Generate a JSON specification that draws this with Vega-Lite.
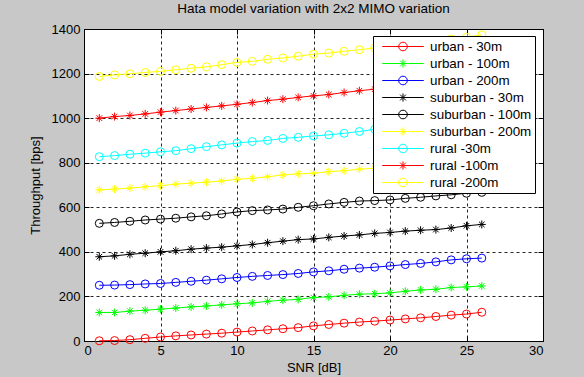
{
"$schema":"https://vega.github.io/schema/vega-lite/v6.json",
"width":459,"height":312,
"autosize":{"type":"none"},
"padding":{"left":84,"top":29,"right":41,"bottom":36},
"background":"#c8c8c8",
"title":{"text":"Hata model variation with 2x2 MIMO variation","fontSize":13.5,"fontWeight":"normal","font":"Liberation Sans","color":"#000000","offset":8,"anchor":"middle"},
"config":{
 "view":{"fill":"#ffffff","stroke":"#000000","strokeWidth":1},
 "font":"Liberation Sans",
 "axis":{"domainColor":"#000000","tickColor":"#000000","tickSize":-5,"labelColor":"#000000","labelFontSize":13,"labelFont":"Liberation Sans","titleFont":"Liberation Sans","titleFontSize":13,"titleFontWeight":"normal","titleColor":"#000000","gridColor":"#000000","gridDash":[3,3],"gridOpacity":0.85,"gridWidth":1},
 "legend":{"labelFont":"Liberation Sans","labelFontSize":13.4,"labelColor":"#000000"}
},
"data":{"values":[
{"series":"urban - 30m","snr":1,"tput":1},{"series":"urban - 30m","snr":2,"tput":2},{"series":"urban - 30m","snr":3,"tput":6},{"series":"urban - 30m","snr":4,"tput":12},{"series":"urban - 30m","snr":5,"tput":18},{"series":"urban - 30m","snr":6,"tput":23},{"series":"urban - 30m","snr":7,"tput":27},{"series":"urban - 30m","snr":8,"tput":31},{"series":"urban - 30m","snr":9,"tput":35},{"series":"urban - 30m","snr":10,"tput":40},{"series":"urban - 30m","snr":11,"tput":45},{"series":"urban - 30m","snr":12,"tput":50},{"series":"urban - 30m","snr":13,"tput":55},{"series":"urban - 30m","snr":14,"tput":60},{"series":"urban - 30m","snr":15,"tput":68},{"series":"urban - 30m","snr":16,"tput":74},{"series":"urban - 30m","snr":17,"tput":80},{"series":"urban - 30m","snr":18,"tput":85},{"series":"urban - 30m","snr":19,"tput":89},{"series":"urban - 30m","snr":20,"tput":94},{"series":"urban - 30m","snr":21,"tput":99},{"series":"urban - 30m","snr":22,"tput":104},{"series":"urban - 30m","snr":23,"tput":110},{"series":"urban - 30m","snr":24,"tput":116},{"series":"urban - 30m","snr":25,"tput":121},{"series":"urban - 30m","snr":26,"tput":129},
{"series":"urban - 100m","snr":1,"tput":128},{"series":"urban - 100m","snr":2,"tput":128},{"series":"urban - 100m","snr":3,"tput":134},{"series":"urban - 100m","snr":4,"tput":138},{"series":"urban - 100m","snr":5,"tput":143},{"series":"urban - 100m","snr":6,"tput":148},{"series":"urban - 100m","snr":7,"tput":153},{"series":"urban - 100m","snr":8,"tput":157},{"series":"urban - 100m","snr":9,"tput":162},{"series":"urban - 100m","snr":10,"tput":167},{"series":"urban - 100m","snr":11,"tput":171},{"series":"urban - 100m","snr":12,"tput":178},{"series":"urban - 100m","snr":13,"tput":183},{"series":"urban - 100m","snr":14,"tput":187},{"series":"urban - 100m","snr":15,"tput":195},{"series":"urban - 100m","snr":16,"tput":198},{"series":"urban - 100m","snr":17,"tput":205},{"series":"urban - 100m","snr":18,"tput":210},{"series":"urban - 100m","snr":19,"tput":212},{"series":"urban - 100m","snr":20,"tput":216},{"series":"urban - 100m","snr":21,"tput":223},{"series":"urban - 100m","snr":22,"tput":229},{"series":"urban - 100m","snr":23,"tput":232},{"series":"urban - 100m","snr":24,"tput":240},{"series":"urban - 100m","snr":25,"tput":243},{"series":"urban - 100m","snr":26,"tput":247},
{"series":"urban - 200m","snr":1,"tput":250},{"series":"urban - 200m","snr":2,"tput":251},{"series":"urban - 200m","snr":3,"tput":253},{"series":"urban - 200m","snr":4,"tput":256},{"series":"urban - 200m","snr":5,"tput":258},{"series":"urban - 200m","snr":6,"tput":263},{"series":"urban - 200m","snr":7,"tput":268},{"series":"urban - 200m","snr":8,"tput":273},{"series":"urban - 200m","snr":9,"tput":279},{"series":"urban - 200m","snr":10,"tput":285},{"series":"urban - 200m","snr":11,"tput":290},{"series":"urban - 200m","snr":12,"tput":294},{"series":"urban - 200m","snr":13,"tput":298},{"series":"urban - 200m","snr":14,"tput":303},{"series":"urban - 200m","snr":15,"tput":310},{"series":"urban - 200m","snr":16,"tput":315},{"series":"urban - 200m","snr":17,"tput":322},{"series":"urban - 200m","snr":18,"tput":327},{"series":"urban - 200m","snr":19,"tput":331},{"series":"urban - 200m","snr":20,"tput":337},{"series":"urban - 200m","snr":21,"tput":343},{"series":"urban - 200m","snr":22,"tput":348},{"series":"urban - 200m","snr":23,"tput":355},{"series":"urban - 200m","snr":24,"tput":364},{"series":"urban - 200m","snr":25,"tput":369},{"series":"urban - 200m","snr":26,"tput":372},
{"series":"suburban - 30m","snr":1,"tput":378},{"series":"suburban - 30m","snr":2,"tput":382},{"series":"suburban - 30m","snr":3,"tput":389},{"series":"suburban - 30m","snr":4,"tput":394},{"series":"suburban - 30m","snr":5,"tput":400},{"series":"suburban - 30m","snr":6,"tput":405},{"series":"suburban - 30m","snr":7,"tput":412},{"series":"suburban - 30m","snr":8,"tput":417},{"series":"suburban - 30m","snr":9,"tput":421},{"series":"suburban - 30m","snr":10,"tput":427},{"series":"suburban - 30m","snr":11,"tput":433},{"series":"suburban - 30m","snr":12,"tput":441},{"series":"suburban - 30m","snr":13,"tput":448},{"series":"suburban - 30m","snr":14,"tput":455},{"series":"suburban - 30m","snr":15,"tput":458},{"series":"suburban - 30m","snr":16,"tput":465},{"series":"suburban - 30m","snr":17,"tput":471},{"series":"suburban - 30m","snr":18,"tput":476},{"series":"suburban - 30m","snr":19,"tput":483},{"series":"suburban - 30m","snr":20,"tput":487},{"series":"suburban - 30m","snr":21,"tput":493},{"series":"suburban - 30m","snr":22,"tput":497},{"series":"suburban - 30m","snr":23,"tput":500},{"series":"suburban - 30m","snr":24,"tput":507},{"series":"suburban - 30m","snr":25,"tput":517},{"series":"suburban - 30m","snr":26,"tput":523},
{"series":"suburban - 100m","snr":1,"tput":528},{"series":"suburban - 100m","snr":2,"tput":532},{"series":"suburban - 100m","snr":3,"tput":537},{"series":"suburban - 100m","snr":4,"tput":543},{"series":"suburban - 100m","snr":5,"tput":547},{"series":"suburban - 100m","snr":6,"tput":551},{"series":"suburban - 100m","snr":7,"tput":557},{"series":"suburban - 100m","snr":8,"tput":562},{"series":"suburban - 100m","snr":9,"tput":570},{"series":"suburban - 100m","snr":10,"tput":579},{"series":"suburban - 100m","snr":11,"tput":585},{"series":"suburban - 100m","snr":12,"tput":588},{"series":"suburban - 100m","snr":13,"tput":592},{"series":"suburban - 100m","snr":14,"tput":600},{"series":"suburban - 100m","snr":15,"tput":607},{"series":"suburban - 100m","snr":16,"tput":615},{"series":"suburban - 100m","snr":17,"tput":622},{"series":"suburban - 100m","snr":18,"tput":628},{"series":"suburban - 100m","snr":19,"tput":630},{"series":"suburban - 100m","snr":20,"tput":633},{"series":"suburban - 100m","snr":21,"tput":640},{"series":"suburban - 100m","snr":22,"tput":645},{"series":"suburban - 100m","snr":23,"tput":651},{"series":"suburban - 100m","snr":24,"tput":656},{"series":"suburban - 100m","snr":25,"tput":663},{"series":"suburban - 100m","snr":26,"tput":667},
{"series":"suburban - 200m","snr":1,"tput":678},{"series":"suburban - 200m","snr":2,"tput":682},{"series":"suburban - 200m","snr":3,"tput":686},{"series":"suburban - 200m","snr":4,"tput":692},{"series":"suburban - 200m","snr":5,"tput":697},{"series":"suburban - 200m","snr":6,"tput":704},{"series":"suburban - 200m","snr":7,"tput":708},{"series":"suburban - 200m","snr":8,"tput":713},{"series":"suburban - 200m","snr":9,"tput":718},{"series":"suburban - 200m","snr":10,"tput":726},{"series":"suburban - 200m","snr":11,"tput":730},{"series":"suburban - 200m","snr":12,"tput":737},{"series":"suburban - 200m","snr":13,"tput":745},{"series":"suburban - 200m","snr":14,"tput":750},{"series":"suburban - 200m","snr":15,"tput":753},{"series":"suburban - 200m","snr":16,"tput":760},{"series":"suburban - 200m","snr":17,"tput":764},{"series":"suburban - 200m","snr":18,"tput":771},{"series":"suburban - 200m","snr":19,"tput":775},{"series":"suburban - 200m","snr":20,"tput":780},{"series":"suburban - 200m","snr":21,"tput":786},{"series":"suburban - 200m","snr":22,"tput":792},{"series":"suburban - 200m","snr":23,"tput":798},{"series":"suburban - 200m","snr":24,"tput":805},{"series":"suburban - 200m","snr":25,"tput":812},{"series":"suburban - 200m","snr":26,"tput":818},
{"series":"rural -30m","snr":1,"tput":827},{"series":"rural -30m","snr":2,"tput":832},{"series":"rural -30m","snr":3,"tput":838},{"series":"rural -30m","snr":4,"tput":843},{"series":"rural -30m","snr":5,"tput":849},{"series":"rural -30m","snr":6,"tput":854},{"series":"rural -30m","snr":7,"tput":863},{"series":"rural -30m","snr":8,"tput":872},{"series":"rural -30m","snr":9,"tput":880},{"series":"rural -30m","snr":10,"tput":888},{"series":"rural -30m","snr":11,"tput":895},{"series":"rural -30m","snr":12,"tput":900},{"series":"rural -30m","snr":13,"tput":909},{"series":"rural -30m","snr":14,"tput":914},{"series":"rural -30m","snr":15,"tput":920},{"series":"rural -30m","snr":16,"tput":925},{"series":"rural -30m","snr":17,"tput":932},{"series":"rural -30m","snr":18,"tput":940},{"series":"rural -30m","snr":19,"tput":950},{"series":"rural -30m","snr":20,"tput":958},{"series":"rural -30m","snr":21,"tput":966},{"series":"rural -30m","snr":22,"tput":973},{"series":"rural -30m","snr":23,"tput":981},{"series":"rural -30m","snr":24,"tput":990},{"series":"rural -30m","snr":25,"tput":998},{"series":"rural -30m","snr":26,"tput":1006},
{"series":"rural -100m","snr":1,"tput":1000},{"series":"rural -100m","snr":2,"tput":1007},{"series":"rural -100m","snr":3,"tput":1012},{"series":"rural -100m","snr":4,"tput":1019},{"series":"rural -100m","snr":5,"tput":1027},{"series":"rural -100m","snr":6,"tput":1034},{"series":"rural -100m","snr":7,"tput":1041},{"series":"rural -100m","snr":8,"tput":1048},{"series":"rural -100m","snr":9,"tput":1055},{"series":"rural -100m","snr":10,"tput":1062},{"series":"rural -100m","snr":11,"tput":1070},{"series":"rural -100m","snr":12,"tput":1079},{"series":"rural -100m","snr":13,"tput":1085},{"series":"rural -100m","snr":14,"tput":1093},{"series":"rural -100m","snr":15,"tput":1100},{"series":"rural -100m","snr":16,"tput":1106},{"series":"rural -100m","snr":17,"tput":1115},{"series":"rural -100m","snr":18,"tput":1123},{"series":"rural -100m","snr":19,"tput":1130},{"series":"rural -100m","snr":20,"tput":1138},{"series":"rural -100m","snr":21,"tput":1146},{"series":"rural -100m","snr":22,"tput":1154},{"series":"rural -100m","snr":23,"tput":1162},{"series":"rural -100m","snr":24,"tput":1170},{"series":"rural -100m","snr":25,"tput":1178},{"series":"rural -100m","snr":26,"tput":1186},
{"series":"rural -200m","snr":1,"tput":1187},{"series":"rural -200m","snr":2,"tput":1194},{"series":"rural -200m","snr":3,"tput":1199},{"series":"rural -200m","snr":4,"tput":1205},{"series":"rural -200m","snr":5,"tput":1210},{"series":"rural -200m","snr":6,"tput":1217},{"series":"rural -200m","snr":7,"tput":1224},{"series":"rural -200m","snr":8,"tput":1230},{"series":"rural -200m","snr":9,"tput":1240},{"series":"rural -200m","snr":10,"tput":1250},{"series":"rural -200m","snr":11,"tput":1255},{"series":"rural -200m","snr":12,"tput":1264},{"series":"rural -200m","snr":13,"tput":1270},{"series":"rural -200m","snr":14,"tput":1278},{"series":"rural -200m","snr":15,"tput":1287},{"series":"rural -200m","snr":16,"tput":1292},{"series":"rural -200m","snr":17,"tput":1300},{"series":"rural -200m","snr":18,"tput":1307},{"series":"rural -200m","snr":19,"tput":1315},{"series":"rural -200m","snr":20,"tput":1323},{"series":"rural -200m","snr":21,"tput":1331},{"series":"rural -200m","snr":22,"tput":1339},{"series":"rural -200m","snr":23,"tput":1347},{"series":"rural -200m","snr":24,"tput":1355},{"series":"rural -200m","snr":25,"tput":1363},{"series":"rural -200m","snr":26,"tput":1374}
]},
"encoding":{
 "x":{"field":"snr","type":"quantitative","scale":{"domain":[0,30],"nice":false,"zero":false},"axis":{"title":"SNR [dB]","grid":true,"values":[0,5,10,15,20,25,30],"format":"d","labelPadding":8,"titlePadding":4}},
 "y":{"field":"tput","type":"quantitative","scale":{"domain":[0,1400],"nice":false},"axis":{"title":"Throughput [bps]","grid":true,"values":[0,200,400,600,800,1000,1200,1400],"format":"d","labelPadding":9,"titlePadding":9}}
},
"layer":[
 {"mark":{"type":"line","strokeWidth":1},
  "encoding":{"color":{"field":"series","type":"nominal","legend":null,
   "scale":{"domain":["urban - 30m","urban - 100m","urban - 200m","suburban - 30m","suburban - 100m","suburban - 200m","rural -30m","rural -100m","rural -200m"],"range":["#ff0000","#00ff00","#0000ff","#000000","#000000","#ffff00","#00ffff","#ff0000","#ffff00"]}}}},
 {"mark":{"type":"point","filled":false,"strokeWidth":1,"size":64,"opacity":1},
  "encoding":{
   "x":{"field":"snr","type":"quantitative","axis":{"orient":"top","title":null,"labels":false,"grid":false,"domain":false,"values":[0,5,10,15,20,25,30]}},
   "y":{"field":"tput","type":"quantitative","axis":{"orient":"right","title":null,"labels":false,"grid":false,"domain":false,"values":[0,200,400,600,800,1000,1200,1400]}},
   "color":{"field":"series","type":"nominal","legend":null,
   "scale":{"domain":["urban - 30m","urban - 100m","urban - 200m","suburban - 30m","suburban - 100m","suburban - 200m","rural -30m","rural -100m","rural -200m"],"range":["#ff0000","#00ff00","#0000ff","#000000","#000000","#ffff00","#00ffff","#ff0000","#ffff00"]}},
   "shape":{"field":"series","type":"nominal","legend":null,
   "scale":{"domain":["urban - 30m","urban - 100m","urban - 200m","suburban - 30m","suburban - 100m","suburban - 200m","rural -30m","rural -100m","rural -200m"],
   "range":["circle","M-1,0L1,0M0,-1L0,1M-0.7,-0.7L0.7,0.7M-0.7,0.7L0.7,-0.7","circle","M-1,0L1,0M0,-1L0,1M-0.7,-0.7L0.7,0.7M-0.7,0.7L0.7,-0.7","circle","M-1,0L1,0M0,-1L0,1M-0.7,-0.7L0.7,0.7M-0.7,0.7L0.7,-0.7","circle","M-1,0L1,0M0,-1L0,1M-0.7,-0.7L0.7,0.7M-0.7,0.7L0.7,-0.7","circle"]}}}},
 {"mark":{"type":"point","filled":false,"strokeWidth":1,"strokeOpacity":0},
  "encoding":{
   "x":{"field":"snr","type":"quantitative","axis":null},
   "y":{"field":"tput","type":"quantitative","axis":null},
   "color":{"field":"series","type":"nominal",
   "legend":{"title":null,"orient":"none","legendX":289,"legendY":7,"fillColor":"#ffffff","strokeColor":"#000000","padding":3,"rowPadding":2,"labelOffset":5,"clipHeight":15,"symbolSize":2304,"symbolStrokeWidth":1,"symbolOpacity":1,"symbolFillColor":"transparent"},
   "scale":{"domain":["urban - 30m","urban - 100m","urban - 200m","suburban - 30m","suburban - 100m","suburban - 200m","rural -30m","rural -100m","rural -200m"],"range":["#ff0000","#00ff00","#0000ff","#000000","#000000","#ffff00","#00ffff","#ff0000","#ffff00"]}},
   "shape":{"field":"series","type":"nominal",
   "legend":{"title":null,"orient":"none","legendX":289,"legendY":7,"fillColor":"#ffffff","strokeColor":"#000000","padding":3,"rowPadding":2,"labelOffset":5,"clipHeight":15,"symbolSize":2304,"symbolStrokeWidth":1,"symbolOpacity":1,"symbolFillColor":"transparent"},
   "scale":{"domain":["urban - 30m","urban - 100m","urban - 200m","suburban - 30m","suburban - 100m","suburban - 200m","rural -30m","rural -100m","rural -200m"],
   "range":["M-0.76,0L0.97,0M-0.076,0A0.18,0.18 0 1,1 0.284,0A0.18,0.18 0 1,1 -0.076,0Z","M-0.76,0L0.97,0M0.104,-0.17L0.104,0.17M-0.016,-0.12L0.224,0.12M-0.016,0.12L0.224,-0.12","M-0.76,0L0.97,0M-0.076,0A0.18,0.18 0 1,1 0.284,0A0.18,0.18 0 1,1 -0.076,0Z","M-0.76,0L0.97,0M0.104,-0.17L0.104,0.17M-0.016,-0.12L0.224,0.12M-0.016,0.12L0.224,-0.12","M-0.76,0L0.97,0M-0.076,0A0.18,0.18 0 1,1 0.284,0A0.18,0.18 0 1,1 -0.076,0Z","M-0.76,0L0.97,0M0.104,-0.17L0.104,0.17M-0.016,-0.12L0.224,0.12M-0.016,0.12L0.224,-0.12","M-0.76,0L0.97,0M-0.076,0A0.18,0.18 0 1,1 0.284,0A0.18,0.18 0 1,1 -0.076,0Z","M-0.76,0L0.97,0M0.104,-0.17L0.104,0.17M-0.016,-0.12L0.224,0.12M-0.016,0.12L0.224,-0.12","M-0.76,0L0.97,0M-0.076,0A0.18,0.18 0 1,1 0.284,0A0.18,0.18 0 1,1 -0.076,0Z"]}}}}
],
"resolve":{"scale":{"color":"independent","shape":"independent"},"axis":{"x":"independent","y":"independent"}}
}
